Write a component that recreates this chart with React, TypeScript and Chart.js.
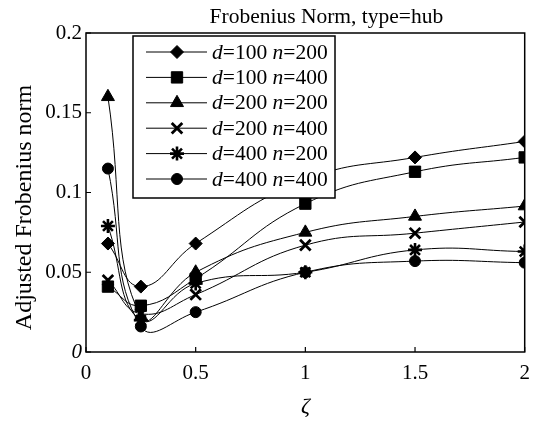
import React, { useEffect, useRef } from "react";
import { Chart, registerables } from "chart.js";
import { drawPoint } from "chart.js/helpers";

Chart.register(...registerables);

const zeta = [0.1, 0.25, 0.5, 1, 1.5, 2];
const d100n200 = [0.068, 0.041, 0.068, 0.108, 0.122, 0.132];
const d100n400 = [0.041, 0.029, 0.046, 0.093, 0.113, 0.122];
const d200n200 = [0.16, 0.022, 0.05, 0.075, 0.085, 0.0915];
const d200n400 = [0.045, 0.024, 0.036, 0.067, 0.0745, 0.0815];
const d400n200 = [0.079, 0.02, 0.043, 0.05, 0.064, 0.063];
const d400n400 = [0.115, 0.016, 0.025, 0.05, 0.057, 0.056];

const xTicks = [0, 0.5, 1, 1.5, 2];
const yTicks = [0, 0.05, 0.1, 0.15, 0.2];

const seriesDefs = [
  { d: "100", n: "200", values: d100n200, style: "rectRot", radius: 6.5, bw: 1 },
  { d: "100", n: "400", values: d100n400, style: "rect", radius: 8, bw: 1 },
  { d: "200", n: "200", values: d200n200, style: "triangle", radius: 7.5, bw: 1 },
  { d: "200", n: "400", values: d200n400, style: "crossRot", radius: 7.5, bw: 2.8 },
  { d: "400", n: "200", values: d400n200, style: "star", radius: 7, bw: 2.6 },
  { d: "400", n: "400", values: d400n400, style: "circle", radius: 5.5, bw: 1 },
];

const FONT = "'Liberation Serif', 'Times New Roman', serif";

const decorPlugin = {
  id: "decor",
  afterDraw(chart: any) {
    const ctx = chart.ctx;
    const a = chart.chartArea;
    const xs = chart.scales.x;
    const ys = chart.scales.y;
    ctx.save();
    // frame
    ctx.strokeStyle = "#000";
    ctx.lineWidth = 1.5;
    ctx.strokeRect(a.left, a.top, a.right - a.left, a.bottom - a.top);
    // inward ticks
    ctx.lineWidth = 1.2;
    ctx.beginPath();
    xTicks.forEach((v) => {
      const px = xs.getPixelForValue(v);
      ctx.moveTo(px, a.bottom);
      ctx.lineTo(px, a.bottom - 5);
    });
    yTicks.forEach((v) => {
      const py = ys.getPixelForValue(v);
      ctx.moveTo(a.left, py);
      ctx.lineTo(a.left + 5, py);
    });
    ctx.stroke();

    // title
    ctx.fillStyle = "#000";
    ctx.font = `21.5px ${FONT}`;
    ctx.textAlign = "center";
    ctx.textBaseline = "middle";
    ctx.fillText("Frobenius Norm, type=hub", (a.left + a.right) / 2 + 21, a.top - 16);

    // y label
    ctx.save();
    ctx.translate(25, (a.top + a.bottom) / 2 + 15);
    ctx.rotate(-Math.PI / 2);
    ctx.font = `24px ${FONT}`;
    ctx.fillText("Adjusted Frobenius norm", 0, 0);
    ctx.restore();

    // x label
    ctx.font = `italic 22px ${FONT}`;
    ctx.fillText("ζ", (a.left + a.right) / 2, a.bottom + 55);

    // legend
    const lx = a.left + 47;
    const ly = a.top + 3;
    const lw = 202;
    const lh = 162;
    ctx.fillStyle = "#fff";
    ctx.fillRect(lx, ly, lw, lh);
    ctx.strokeStyle = "#000";
    ctx.lineWidth = 1.5;
    ctx.strokeRect(lx, ly, lw, lh);
    seriesDefs.forEach((s, i) => {
      const cy = ly + 16 + i * 25.4;
      ctx.strokeStyle = "#000";
      ctx.lineWidth = 1;
      ctx.beginPath();
      ctx.moveTo(lx + 13, cy);
      ctx.lineTo(lx + 74, cy);
      ctx.stroke();
      ctx.fillStyle = "#000";
      ctx.lineWidth = s.bw;
      drawPoint(ctx, { pointStyle: s.style, radius: s.radius, borderWidth: s.bw, rotation: 0 } as any, lx + 44, cy);
      ctx.fillStyle = "#000";
      ctx.textAlign = "left";
      ctx.textBaseline = "middle";
      let tx = lx + 79;
      const parts: [string, boolean][] = [
        ["d", true],
        ["=" + s.d + " ", false],
        ["n", true],
        ["=" + s.n, false],
      ];
      parts.forEach(([t, it]) => {
        ctx.font = `${it ? "italic " : ""}21.5px ${FONT}`;
        ctx.fillText(t, tx, cy + 1);
        tx += ctx.measureText(t).width;
      });
    });
    ctx.restore();
  },
};

export default function App() {
  const ref = useRef<HTMLCanvasElement | null>(null);
  useEffect(() => {
    if (!ref.current) return;
    const chart = new Chart(ref.current, {
      type: "line",
      data: {
        datasets: seriesDefs.map((s) => ({
          label: `d=${s.d} n=${s.n}`,
          data: zeta.map((x, i) => ({ x, y: s.values[i] })),
          borderColor: "#000",
          borderWidth: 1,
          backgroundColor: "#000",
          pointBackgroundColor: "#000",
          pointBorderColor: "#000",
          pointBorderWidth: s.bw,
          pointStyle: s.style as any,
          pointRadius: s.radius,
          tension: 0.45,
          fill: false,
        })),
      },
      options: {
        animation: false,
        responsive: false,
        layout: { padding: { left: 0, right: 5, top: 33, bottom: 0 } },
        plugins: {
          legend: { display: false },
          title: { display: false },
          tooltip: { enabled: false },
        },
        scales: {
          x: {
            type: "linear",
            min: 0,
            max: 2,
            afterFit: (s: any) => {
              s.height = 71;
              s.paddingRight = 0;
              s.paddingLeft = 0;
            },
            afterBuildTicks: (s: any) => {
              s.ticks = xTicks.map((v) => ({ value: v }));
            },
            grid: { display: false, drawTicks: false, tickLength: 0 },
            border: { display: false },
            ticks: {
              padding: 9,
              color: "#000",
              font: { family: FONT, size: 21 },
              callback: (v: any) => String(v),
              maxRotation: 0,
            },
          },
          y: {
            type: "linear",
            min: 0,
            max: 0.2,
            afterFit: (s: any) => {
              s.width = 86;
              s.paddingTop = 0;
              s.paddingBottom = 0;
            },
            afterBuildTicks: (s: any) => {
              s.ticks = yTicks.map((v) => ({ value: v }));
            },
            grid: { display: false, drawTicks: false, tickLength: 0 },
            border: { display: false },
            ticks: {
              padding: 4,
              color: "#000",
              font: (c: any) => ({
                family: FONT,
                size: 21,
                style: c.tick && c.tick.value === 0 ? "italic" : "normal",
              }),
              callback: (v: any) => String(Math.round(v * 100) / 100),
            },
          },
        },
      },
      plugins: [decorPlugin],
    });
    return () => chart.destroy();
  }, []);
  return (
    <div style={{ position: "absolute", left: 0, top: 0, width: 535, height: 423, background: "#fff" }}>
      <canvas ref={ref} width={535} height={423} style={{ display: "block" }} />
    </div>
  );
}
